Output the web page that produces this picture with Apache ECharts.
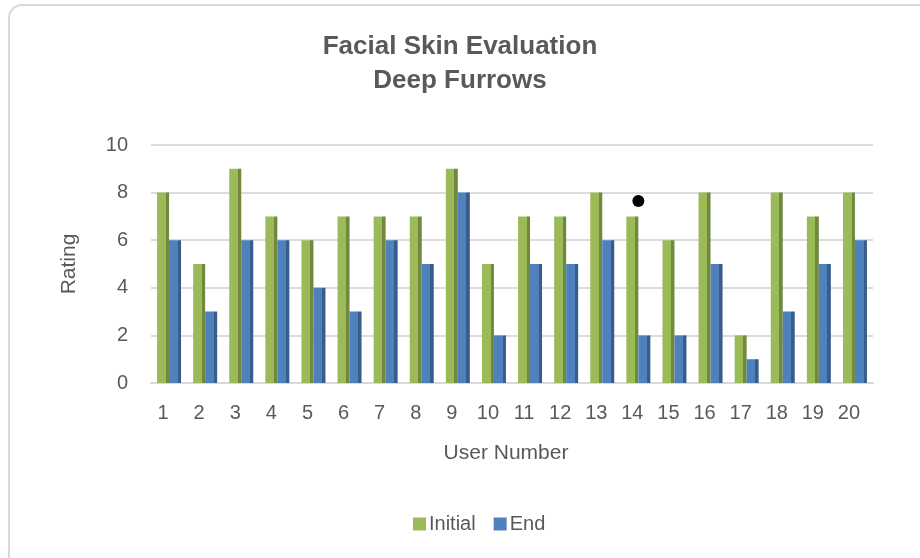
<!DOCTYPE html>
<html>
<head>
<meta charset="utf-8">
<script src="https://cdn.jsdelivr.net/npm/echarts@6/dist/echarts.min.js"></script>
<style>
  html, body { margin: 0; padding: 0; background: #fff; overflow: hidden; }
  .frame {
    position: absolute; left: 8px; top: 4px; width: 940px; height: 580px;
    border: 2px solid #d9d9d9; border-radius: 14px; box-sizing: border-box;
  }
  #main { position: absolute; left: 0; top: 0; width: 920px; height: 558px; }
</style>
</head>
<body>
<div class="frame"></div>
<div id="main"></div>
<script>
  // 数据
  var users = ["1","2","3","4","5","6","7","8","9","10","11","12","13","14","15","16","17","18","19","20"];
  var initialVals = [8, 5, 9, 7, 6, 7, 7, 7, 9, 5, 7, 7, 8, 7, 6, 8, 2, 8, 7, 8];
  var endVals = [6, 3, 6, 6, 4, 3, 6, 5, 8, 2, 5, 5, 6, 2, 2, 5, 1, 3, 5, 6];
  // 14号上方的黑点
  var markPoint = [["14", 7.65]];

  var font = "Liberation Sans, Arial, sans-serif";
  var txt = "#595959";

  // 带侧面的柱子颜色
  function sideFill(main, dark) {
    return new echarts.graphic.LinearGradient(0, 0, 1, 0, [
      { offset: 0, color: main },
      { offset: 0.72, color: main },
      { offset: 0.72, color: dark },
      { offset: 1, color: dark }
    ]);
  }

  var myChart = echarts.init(document.getElementById("main"));
  myChart.setOption({
    animation: false,
    textStyle: { fontFamily: font },
    title: {
      text: "Facial Skin Evaluation\nDeep Furrows",
      left: "center",
      top: 25,
      textStyle: {
        fontFamily: font,
        fontSize: 26,
        fontWeight: "bold",
        color: txt,
        lineHeight: 34
      }
    },
    grid: { left: 151, right: 47, top: 145, bottom: 175 },
    legend: {
      data: [
        { name: "Initial", itemStyle: { color: "#9bbb59" } },
        { name: "End", itemStyle: { color: "#4f81bd" } }
      ],
      bottom: 19,
      left: 408,
      itemWidth: 13,
      itemHeight: 13,
      itemGap: 18,
      icon: "rect",
      textStyle: { fontFamily: font, fontSize: 20, color: txt, padding: [0, 0, 0, -2] }
    },
    xAxis: {
      type: "category",
      data: users,
      name: "User Number",
      nameLocation: "middle",
      nameGap: 60,
      nameTextStyle: { fontFamily: font, fontSize: 21, color: txt, padding: [0, 12, 0, 0] },
      axisLine: { show: true, lineStyle: { color: "#d9d9d9", width: 2 } },
      axisTick: { show: false },
      axisLabel: { fontFamily: font, fontSize: 20, color: txt, margin: 20, padding: [0, 12, 0, 0] }
    },
    yAxis: {
      type: "value",
      min: 0,
      max: 10,
      interval: 2,
      name: "Rating",
      nameLocation: "middle",
      nameGap: 71,
      nameTextStyle: { fontFamily: font, fontSize: 21, color: txt },
      axisLine: { show: false },
      axisTick: { show: false },
      axisLabel: { fontFamily: font, fontSize: 20, color: txt, margin: 23 },
      splitLine: { lineStyle: { color: "#dcdcdc", width: 2 } }
    },
    series: [
      {
        name: "Initial",
        type: "bar",
        data: initialVals,
        barWidth: 12,
        barGap: "0%",
        color: "#9bbb59",
        itemStyle: { color: sideFill("#9bbb59", "#71893f") }
      },
      {
        name: "End",
        type: "bar",
        data: endVals,
        barWidth: 12,
        barGap: "0%",
        color: "#4f81bd",
        itemStyle: { color: sideFill("#4f81bd", "#385d8a") }
      },
      {
        name: "dot",
        type: "scatter",
        data: markPoint,
        symbolSize: 12,
        itemStyle: { color: "#000", opacity: 1 }
      }
    ]
  });
</script>
</body>
</html>
